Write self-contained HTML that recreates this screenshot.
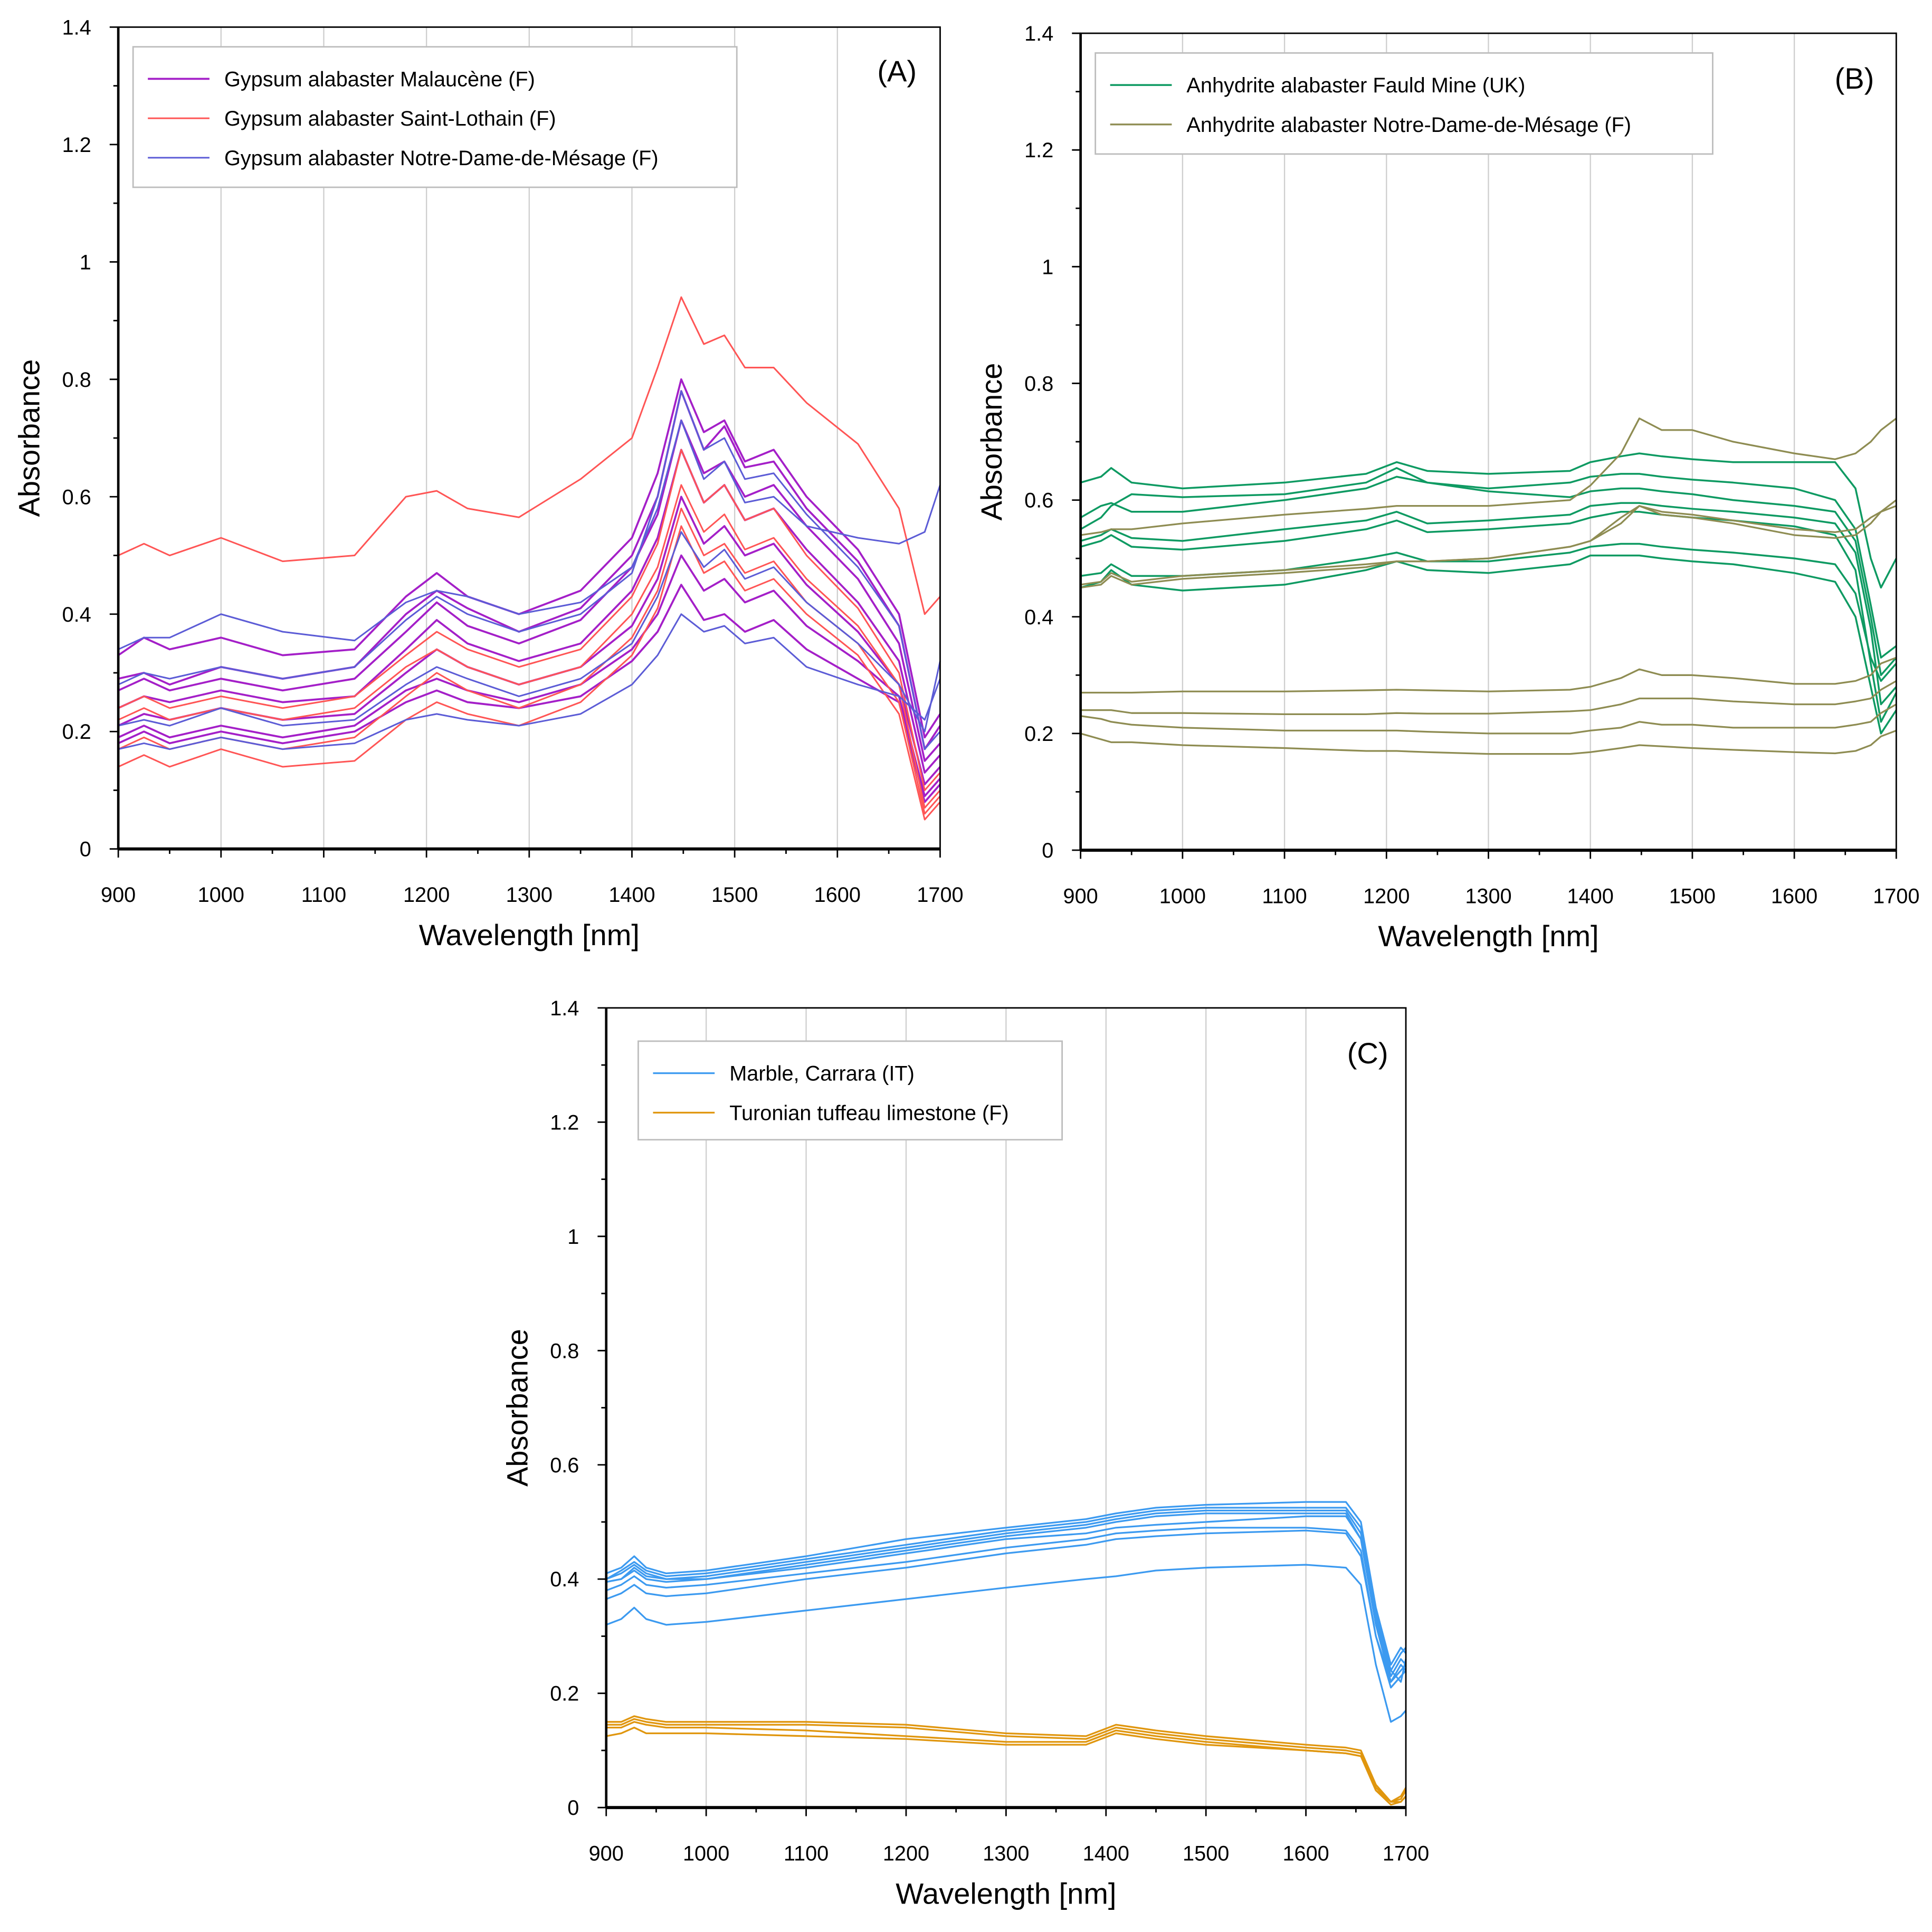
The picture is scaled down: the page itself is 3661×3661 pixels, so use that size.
<!DOCTYPE html>
<html><head><meta charset="utf-8"><style>
html,body{margin:0;padding:0;background:#fff}
svg{display:block;font-family:"Liberation Sans",sans-serif}
</style></head><body>
<svg id="fig" width="3661" height="3661" viewBox="0 0 1568 1568" xmlns="http://www.w3.org/2000/svg"></svg>
<script>
// ---------- Panel A data ----------
const wlA=[900,925,950,1000,1060,1130,1180,1210,1240,1290,1350,1400,1425,1448,1470,1490,1510,1538,1570,1620,1660,1685,1700];
const malaucene=[
[.33,.36,.34,.36,.33,.34,.43,.47,.43,.40,.44,.53,.64,.80,.71,.73,.66,.68,.60,.51,.40,.19,.23],
[.29,.30,.28,.31,.29,.31,.40,.44,.41,.37,.41,.50,.60,.78,.68,.72,.65,.66,.58,.49,.38,.17,.21],
[.27,.29,.27,.29,.27,.29,.37,.42,.38,.35,.39,.48,.57,.73,.64,.66,.60,.62,.55,.46,.35,.15,.18],
[.24,.26,.25,.27,.25,.26,.34,.39,.35,.32,.35,.44,.53,.68,.59,.62,.56,.58,.51,.42,.32,.13,.16],
[.21,.23,.22,.24,.22,.23,.30,.34,.31,.28,.31,.38,.46,.60,.52,.55,.50,.52,.45,.37,.28,.11,.14],
[.19,.21,.19,.21,.19,.21,.27,.29,.27,.25,.28,.34,.40,.50,.44,.46,.42,.44,.38,.32,.26,.09,.12],
[.18,.20,.18,.20,.18,.20,.25,.27,.25,.24,.26,.32,.37,.45,.39,.40,.37,.39,.34,.29,.25,.08,.11]];
const saintLothain=[
[.50,.52,.50,.53,.49,.50,.60,.61,.58,.565,.63,.70,.82,.94,.86,.875,.82,.82,.76,.69,.58,.40,.43],
[.24,.26,.24,.26,.24,.26,.33,.37,.34,.31,.34,.43,.52,.68,.59,.62,.56,.58,.50,.41,.30,.10,.13],
[.22,.24,.22,.24,.22,.24,.31,.34,.31,.28,.31,.40,.48,.62,.54,.57,.51,.53,.46,.38,.28,.07,.10],
[.17,.19,.17,.19,.17,.19,.26,.30,.27,.24,.28,.36,.44,.58,.50,.52,.47,.49,.42,.35,.25,.06,.09],
[.14,.16,.14,.17,.14,.15,.22,.25,.23,.21,.25,.33,.41,.55,.47,.49,.44,.46,.40,.33,.23,.05,.08]];
const ndmGypsum=[
[.34,.36,.36,.40,.37,.355,.42,.44,.43,.40,.42,.48,.58,.73,.63,.66,.59,.60,.55,.53,.52,.54,.62],
[.28,.30,.29,.31,.29,.31,.39,.43,.40,.37,.40,.47,.60,.78,.68,.70,.63,.64,.57,.48,.38,.17,.20],
[.21,.22,.21,.24,.21,.22,.28,.31,.29,.26,.29,.35,.43,.54,.48,.51,.46,.48,.42,.35,.28,.20,.32],
[.17,.18,.17,.19,.17,.18,.22,.23,.22,.21,.23,.28,.33,.40,.37,.38,.35,.36,.31,.28,.26,.22,.29]];
// ---------- Panel B data ----------
const wlB=[900,920,930,950,1000,1100,1180,1210,1240,1300,1380,1400,1430,1448,1470,1500,1540,1600,1640,1660,1675,1685,1700];
const fauld=[
[.63,.64,.655,.63,.62,.63,.645,.665,.65,.645,.65,.665,.675,.68,.675,.67,.665,.665,.665,.62,.50,.45,.50],
[.57,.59,.595,.58,.58,.60,.62,.64,.63,.62,.63,.64,.645,.645,.64,.635,.63,.62,.60,.55,.42,.33,.35],
[.55,.57,.59,.61,.605,.61,.63,.655,.63,.615,.605,.615,.62,.62,.615,.61,.60,.59,.58,.53,.40,.30,.33],
[.53,.54,.55,.535,.53,.55,.565,.58,.56,.565,.575,.59,.595,.595,.59,.585,.58,.57,.56,.51,.38,.25,.28],
[.52,.53,.54,.52,.515,.53,.55,.565,.545,.55,.56,.57,.58,.58,.575,.57,.565,.555,.54,.48,.32,.22,.27],
[.47,.475,.49,.47,.47,.48,.50,.51,.495,.495,.51,.52,.525,.525,.52,.515,.51,.50,.49,.44,.33,.29,.32],
[.45,.46,.48,.455,.445,.455,.48,.495,.48,.475,.49,.505,.505,.505,.50,.495,.49,.475,.46,.40,.28,.20,.24]];
const ndmAnhydrite=[
[.455,.46,.475,.46,.47,.48,.49,.495,.495,.50,.52,.53,.56,.59,.58,.575,.565,.55,.545,.55,.57,.58,.59],
[.45,.455,.47,.455,.465,.475,.485,.495,.495,.50,.52,.53,.57,.59,.575,.57,.56,.54,.535,.54,.56,.58,.60],
[.54,.545,.55,.55,.56,.575,.585,.59,.59,.59,.60,.625,.68,.74,.72,.72,.70,.68,.67,.68,.70,.72,.74],
[.27,.27,.27,.27,.272,.272,.274,.275,.274,.272,.275,.28,.295,.31,.30,.30,.295,.285,.285,.29,.30,.32,.33],
[.24,.24,.24,.235,.235,.233,.233,.235,.234,.234,.238,.24,.25,.26,.26,.26,.255,.25,.25,.255,.26,.275,.29],
[.23,.225,.22,.215,.21,.205,.205,.205,.203,.20,.20,.205,.21,.22,.215,.215,.21,.21,.21,.215,.22,.235,.25],
[.20,.19,.185,.185,.18,.175,.17,.17,.168,.165,.165,.168,.175,.18,.178,.175,.172,.168,.166,.17,.18,.195,.205]];
// ---------- Panel C data ----------
const wlC=[900,915,928,940,960,1000,1100,1200,1300,1380,1410,1450,1500,1600,1640,1655,1670,1685,1695,1700];
const marble=[
[.41,.42,.44,.42,.41,.415,.44,.47,.49,.505,.515,.525,.53,.535,.535,.50,.35,.25,.28,.27],
[.40,.415,.43,.415,.405,.41,.435,.46,.485,.50,.51,.52,.525,.525,.525,.49,.34,.24,.27,.28],
[.40,.41,.425,.41,.40,.405,.43,.455,.48,.495,.505,.515,.52,.52,.52,.48,.33,.23,.26,.25],
[.395,.40,.42,.405,.40,.40,.425,.45,.475,.49,.50,.51,.515,.515,.515,.47,.32,.22,.25,.24],
[.395,.40,.415,.40,.395,.40,.42,.445,.47,.48,.49,.495,.50,.51,.51,.47,.32,.24,.22,.26],
[.38,.39,.405,.39,.385,.39,.41,.43,.455,.47,.48,.485,.49,.49,.485,.45,.30,.22,.24,.25],
[.365,.375,.39,.375,.37,.375,.40,.42,.445,.46,.47,.475,.48,.485,.48,.44,.30,.21,.23,.24],
[.32,.33,.35,.33,.32,.325,.345,.365,.385,.40,.405,.415,.42,.425,.42,.39,.25,.15,.16,.17]];
const tuffeau=[
[.15,.15,.16,.155,.15,.15,.15,.145,.13,.125,.145,.135,.125,.11,.105,.10,.04,.01,.02,.035],
[.145,.145,.155,.15,.145,.145,.145,.14,.125,.12,.14,.13,.12,.105,.10,.095,.035,.01,.015,.03],
[.14,.14,.15,.145,.14,.14,.135,.125,.115,.115,.135,.125,.115,.10,.095,.09,.03,.005,.01,.02],
[.125,.13,.14,.13,.13,.13,.125,.12,.11,.11,.13,.12,.11,.10,.095,.09,.03,.01,.01,.02]];
const xTicks=[900,1000,1100,1200,1300,1400,1500,1600,1700];
const yTicks=[0,0.2,0.4,0.6,0.8,1,1.2,1.4];
const yTickLabels=["0","0.2","0.4","0.6","0.8","1","1.2","1.4"];

const NS="http://www.w3.org/2000/svg";
const svg=document.getElementById('fig');
function mk(tag,attrs,parent){const e=document.createElementNS(NS,tag);for(const k in attrs)e.setAttribute(k,attrs[k]);(parent||svg).appendChild(e);return e;}

function panel(cfg){
  const g=mk('g',{});
  
  
  const L=cfg.x0,R=cfg.x1,T=cfg.y0,B=cfg.y1;
  const sx=w=>L+(w-900)/800*(R-L);
  const sy=v=>B-v/1.4*(B-T);
  xTicks.forEach(t=>{if(t>900&&t<1700){const l=mk('line',{x1:sx(t),x2:sx(t),y1:T,y2:B,stroke:'#cfcfcf','stroke-width':1},g);
    
    }});
  cfg.groups.forEach(gr=>{gr.data.forEach((s,i)=>{
    const d=s.map((v,j)=>(j?'L':'M')+sx(gr.wl[j]).toFixed(2)+','+sy(v).toFixed(2)).join('');
    const p=mk('path',{d:d,fill:'none',stroke:gr.color,'stroke-width':gr.w||1.3,'stroke-linejoin':'round'},g);
    
    
  });});
  mk('rect',{x:L,y:T,width:R-L,height:B-T,fill:'none',stroke:'#000','stroke-width':1.2},g);
  mk('line',{x1:L,x2:R,y1:B,y2:B,stroke:'#000','stroke-width':2.5},g);
  mk('line',{x1:L,x2:L,y1:T,y2:B,stroke:'#000','stroke-width':2},g);
  for(let t=900;t<=1700;t+=50){const maj=t%100===0;
    mk('line',{x1:sx(t),x2:sx(t),y1:B,y2:B+(maj?7:4),stroke:'#000','stroke-width':1.2},g);}
  xTicks.forEach(t=>{const tx=mk('text',{x:sx(t),y:B+43,'font-size':17,'text-anchor':'middle'},g);tx.textContent=t;
    
    });
  for(let k=0;k<=14;k++){const v=k/10;const maj=k%2===0;
    mk('line',{x1:L-(maj?7:4),x2:L,y1:sy(v),y2:sy(v),stroke:'#000','stroke-width':1.2},g);}
  yTicks.forEach((v,i)=>{const tx=mk('text',{x:L-22,y:sy(v)+6,'font-size':17,'text-anchor':'end'},g);tx.textContent=yTickLabels[i];
    
    });
  const xt=mk('text',{x:(L+R)/2,y:B+78,'font-size':24,'text-anchor':'middle'},g);xt.textContent='Wavelength [nm]';
  
  
  const yx=L-64,yy=(T+B)/2;
  const yt=mk('text',{x:yx,y:yy,'font-size':24,'text-anchor':'middle',transform:`rotate(-90 ${yx} ${yy})`},g);yt.textContent='Absorbance';
  
  
  const pl=mk('text',{x:cfg.lab[0],y:cfg.lab[1],'font-size':24,'text-anchor':'middle'},g);pl.textContent=cfg.label;
  
  
  const lb=cfg.legend;
  const lg=mk('g',{},g);
  
  
  mk('rect',{x:lb.x,y:lb.y,width:lb.w,height:lb.h,fill:'#fff',stroke:'#bdbdbd','stroke-width':1.2},lg);
  cfg.groups.forEach((gr,i)=>{const yy=lb.y+26+i*32;
    mk('line',{x1:lb.x+12,x2:lb.x+62,y1:yy,y2:yy,stroke:gr.color,'stroke-width':gr.w||1.3},lg);
    const t=mk('text',{x:lb.x+74,y:yy+6,'font-size':17},lg);t.textContent=gr.label;
    
    });
}
panel({name:'panel-a',x0:96,x1:763,y0:22,y1:689,label:'(A)',lab:[728,66],
  legend:{x:108,y:38,w:490,h:114},
  groups:[{key:'malaucene',wl:wlA,data:malaucene,color:'#a41fc8',w:1.6,label:'Gypsum alabaster Malaucène (F)'},
          {key:'saint-lothain',wl:wlA,data:saintLothain,color:'#ff5555',label:'Gypsum alabaster Saint-Lothain (F)'},
          {key:'ndm-gypsum',wl:wlA,data:ndmGypsum,color:'#5c5cd6',label:'Gypsum alabaster Notre-Dame-de-Mésage (F)'}]});
panel({name:'panel-b',x0:877,x1:1539,y0:27,y1:690,label:'(B)',lab:[1505,72],
  legend:{x:889,y:43,w:501,h:82},
  groups:[{key:'fauld',wl:wlB,data:fauld,color:'#0e9a62',w:1.5,label:'Anhydrite alabaster Fauld Mine (UK)'},
          {key:'ndm-anhydrite',wl:wlB,data:ndmAnhydrite,color:'#8e8c52',w:1.4,label:'Anhydrite alabaster Notre-Dame-de-Mésage (F)'}]});
panel({name:'panel-c',x0:492,x1:1141,y0:818,y1:1467,label:'(C)',lab:[1110,863],
  legend:{x:518,y:845,w:344,h:80},
  groups:[{key:'marble',wl:wlC,data:marble,color:'#3c9af0',w:1.4,label:'Marble, Carrara (IT)'},
          {key:'tuffeau',wl:wlC,data:tuffeau,color:'#e0960e',w:1.4,label:'Turonian tuffeau limestone (F)'}]});
</script>
</body></html>
